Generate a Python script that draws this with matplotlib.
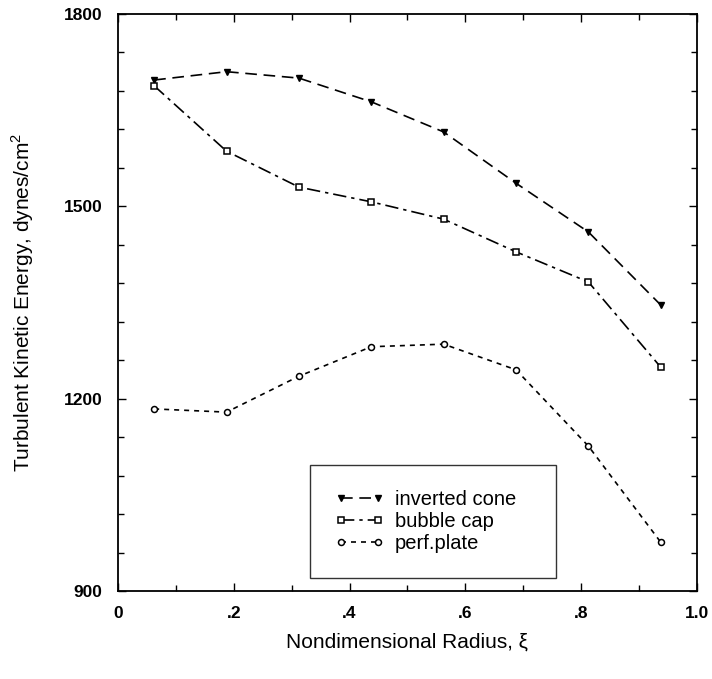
import numpy as np
import matplotlib
matplotlib.use("Agg")
import matplotlib.pyplot as plt
from matplotlib.ticker import MultipleLocator, FixedFormatter, FixedLocator

plt.rcParams['font.family'] = ['Liberation Sans', 'DejaVu Sans']
plt.rcParams['mathtext.fontset'] = 'custom'
plt.rcParams['mathtext.rm'] = 'Liberation Sans'

# data
radius = [0.0625, 0.1875, 0.3125, 0.4375, 0.5625, 0.6875, 0.8125, 0.9375]
inverted_cone = [1697, 1710, 1700, 1663, 1616, 1536, 1460, 1346]
bubble_cap = [1688, 1586, 1530, 1507, 1480, 1429, 1382, 1249]
perf_plate = [1184, 1179, 1235, 1281, 1285, 1245, 1126, 976]

x_ticks = [0, 0.2, 0.4, 0.6, 0.8, 1.0]
x_tick_labels = ['0', '.2', '.4', '.6', '.8', '1.0']
y_ticks = [900, 1200, 1500, 1800]

fig = plt.figure(figsize=(7.12, 6.79), dpi=100)
ax = fig.add_axes([0.1657, 0.1296, 0.8132, 0.8498])

ax.plot(radius, inverted_cone, color='black', lw=1.2, dashes=(7, 4),
        marker='v', ms=4.8, mfc='black', mec='black', label='inverted cone')
ax.plot(radius, bubble_cap, color='black', lw=1.2, dashes=(8, 3, 2, 3),
        marker='s', ms=4.5, mfc='white', mec='black', mew=1.1, label='bubble cap')
ax.plot(radius, perf_plate, color='black', lw=1.2, dashes=(3, 3),
        marker='o', ms=4.3, mfc='white', mec='black', mew=1.1, label='perf.plate')

ax.set_xlim(0, 1.0)
ax.set_ylim(900, 1800)
ax.xaxis.set_major_locator(FixedLocator(x_ticks))
ax.xaxis.set_major_formatter(FixedFormatter(x_tick_labels))
ax.xaxis.set_minor_locator(MultipleLocator(0.1))
ax.yaxis.set_major_locator(FixedLocator(y_ticks))
ax.yaxis.set_minor_locator(MultipleLocator(60))
ax.tick_params(which='both', direction='in', top=True, right=True)
ax.tick_params(which='major', length=6, width=1, labelsize=12.5, pad=11)
ax.tick_params(which='minor', length=4, width=1)
for lab in ax.get_xticklabels() + ax.get_yticklabels():
    lab.set_fontweight('bold')
for s in ax.spines.values():
    s.set_linewidth(1.3)

ax.set_xlabel('Nondimensional Radius, ξ', fontsize=15, labelpad=8)
ax.set_ylabel('Turbulent Kinetic Energy, dynes/cm$^2$', fontsize=15, labelpad=20)

leg = ax.legend(loc='lower left', bbox_to_anchor=(0.332, 0.0225, 0.425, 0.201),
                mode='expand', borderaxespad=0, fontsize=14.5, frameon=True,
                fancybox=False, edgecolor='black', handlelength=2.4,
                handletextpad=0.55, borderpad=1.25, labelspacing=0.15,
                numpoints=2)
leg.get_frame().set_linewidth(1.0)

fig.savefig('out.png', dpi=100)
